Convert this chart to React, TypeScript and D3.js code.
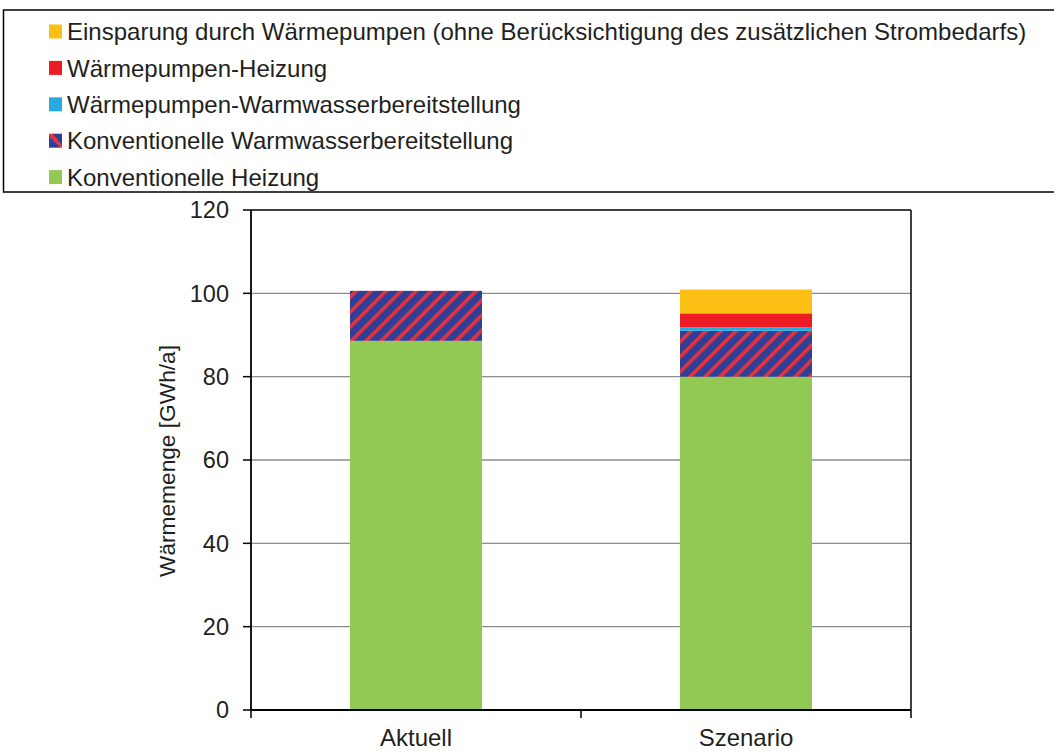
import React from "react";
import * as d3 from "d3";

const categories = ["Aktuell", "Szenario"];
const seriesNames = [
  "Konventionelle Heizung",
  "Konventionelle Warmwasserbereitstellung",
  "Wärmepumpen-Warmwasserbereitstellung",
  "Wärmepumpen-Heizung",
  "Einsparung durch Wärmepumpen (ohne Berücksichtigung des zusätzlichen Strombedarfs)",
];
const konvHeizung = [88.6, 80.0];
const konvWarmwasser = [12.0, 11.0];
const wpWarmwasser = [0, 0.8];
const wpHeizung = [0, 3.4];
const einsparung = [0, 5.7];
const yTicks = [0, 20, 40, 60, 80, 100, 120];
const legendOrder = [4, 3, 2, 1, 0];

const fills = ["#92c952", "url(#hatch)", "#27aae1", "#ed1c24", "#fcbf14"];

export default function App() {
  const W = 1054, H = 753;
  const left = 251, right = 911, top = 210, bottom = 710;
  const y = d3.scaleLinear().domain([0, 120]).range([bottom, top]);
  const x = d3.scaleBand().domain(categories).range([left, right]).paddingInner(0).paddingOuter(0);
  const barW = x.bandwidth() * 0.4;
  const seriesVals = [konvHeizung, konvWarmwasser, wpWarmwasser, wpHeizung, einsparung];
  const rows = categories.map((c, i) => {
    const o: any = { cat: c };
    seriesVals.forEach((s, k) => (o["s" + k] = s[i]));
    return o;
  });
  const stack = d3.stack().keys(seriesVals.map((_, k) => "s" + k))(rows as any);
  const font = "'Liberation Sans', Arial, sans-serif";
  const txt = "#231f20";

  return (
    <svg width={W} height={H} style={{ position: "absolute", left: 0, top: 0, background: "#fff" }}>
      <defs>
        <pattern id="hatch" patternUnits="userSpaceOnUse" width="10.6" height="10.6" patternTransform="rotate(45)">
          <rect width="10.6" height="10.6" fill="#2f3f98" />
          <rect x="0" width="3.6" height="10.6" fill="#e3323c" />
        </pattern>
        <linearGradient id="legHatch" x1="0" y1="1" x2="1" y2="0">
          <stop offset="0.42" stopColor="#2f3f98" />
          <stop offset="0.42" stopColor="#e3323c" />
          <stop offset="0.62" stopColor="#e3323c" />
          <stop offset="0.62" stopColor="#2f3f98" />
        </linearGradient>
      </defs>
      {/* legend */}
      <rect x={3.5} y={10} width={1060} height={182} fill="none" stroke="#000" strokeWidth={1.5} />
      {legendOrder.map((k, i) => {
        const cy = 31.5 + i * 36.4;
        return (
          <g key={k}>
            <rect x={49} y={cy - 7} width={13} height={14} fill={k === 1 ? "url(#legHatch)" : fills[k]} />
            <text x={67} y={cy} dy="0.36em" fontFamily={font} fontSize={24} fill={txt}>
              {seriesNames[k]}
            </text>
          </g>
        );
      })}
      {/* gridlines */}
      {yTicks.filter((t) => t > 0 && t < 120).map((t) => (
        <line key={t} x1={left} x2={right} y1={y(t)} y2={y(t)} stroke="#8c8c8c" strokeWidth={1.3} />
      ))}
      {/* bars */}
      {stack.map((layer, k) =>
        layer.map((d: any, i) => {
          const h = y(d[0]) - y(d[1]);
          if (h <= 0) return null;
          return (
            <rect key={k + "-" + i} x={(x(categories[i]) as number) + (x.bandwidth() - barW) / 2} width={barW}
              y={y(d[1])} height={h} fill={fills[k]} />
          );
        })
      )}
      {/* frame */}
      <line x1={left} x2={right} y1={top} y2={top} stroke="#000" strokeWidth={1.5} />
      <line x1={right} x2={right} y1={top} y2={bottom} stroke="#000" strokeWidth={1.5} />
      <line x1={left} x2={left} y1={top} y2={bottom} stroke="#000" strokeWidth={1.8} />
      <line x1={left} x2={right} y1={bottom} y2={bottom} stroke="#000" strokeWidth={1.8} />
      {/* y ticks */}
      {yTicks.map((t) => (
        <g key={t}>
          <line x1={left - 8} x2={left} y1={y(t)} y2={y(t)} stroke="#000" strokeWidth={1.5} />
          <text x={229} y={y(t)} dy="0.36em" textAnchor="end" fontFamily={font} fontSize={23.5} fill={txt}>
            {t}
          </text>
        </g>
      ))}
      {/* x ticks */}
      {[left, left + x.bandwidth(), right].map((p, i) => (
        <line key={i} x1={p} x2={p} y1={bottom} y2={bottom + 8} stroke="#000" strokeWidth={1.5} />
      ))}
      {categories.map((c) => (
        <text key={c} x={(x(c) as number) + x.bandwidth() / 2} y={746} textAnchor="middle" fontFamily={font} fontSize={24} fill={txt}>
          {c}
        </text>
      ))}
      <text transform={`translate(167,${461}) rotate(-90)`} textAnchor="middle" dy="0.36em" fontFamily={font} fontSize={22.7} fill={txt}>
        Wärmemenge [GWh/a]
      </text>
    </svg>
  );
}
